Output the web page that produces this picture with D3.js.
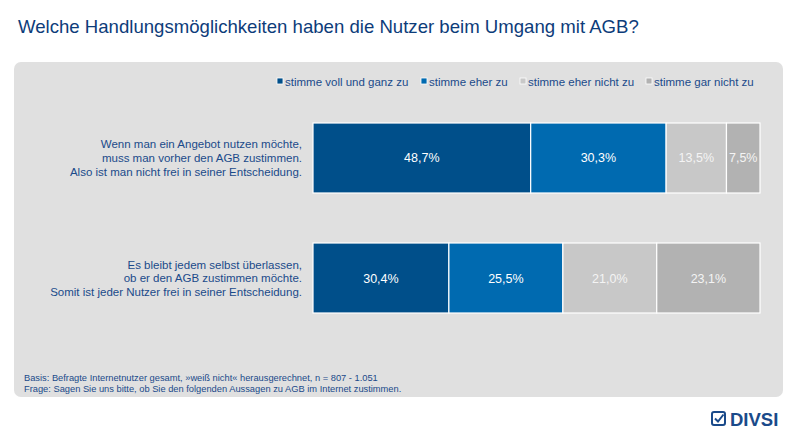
<!DOCTYPE html>
<html>
<head>
<meta charset="utf-8">
<script src="https://d3js.org/d3.v7.min.js"></script>
<style>
  body { margin: 0; background: #fff; }
  svg { display: block; font-family: "Liberation Sans", Arial, sans-serif; }
</style>
</head>
<body>
<div id="chart"></div>
<script>
// data
const categories = ["stimme voll und ganz zu", "stimme eher zu", "stimme eher nicht zu", "stimme gar nicht zu"];
const statements = [
    ["Wenn man ein Angebot nutzen möchte,", "muss man vorher den AGB zustimmen.", "Also ist man nicht frei in seiner Entscheidung."],
    ["Es bleibt jedem selbst überlassen,", "ob er den AGB zustimmen möchte.", "Somit ist jeder Nutzer frei in seiner Entscheidung."]
];
const values = [
    [48.7, 30.3, 13.5, 7.5],
    [30.4, 25.5, 21.0, 23.1]
];
const colors = ["#004f8a", "#006ab0", "#c8c8c8", "#b2b2b2"];

const width = 800, height = 440;
const svg = d3.select("#chart").append("svg")
    .attr("width", width)
    .attr("height", height);

// title
svg.append("text")
    .attr("x", 18).attr("y", 33)
    .attr("fill", "#0d3c7a")
    .style("font-size", "18.6px")
    .text("Welche Handlungsmöglichkeiten haben die Nutzer beim Umgang mit AGB?");

// grey panel
svg.append("rect")
    .attr("x", 14).attr("y", 62)
    .attr("width", 769).attr("height", 335)
    .attr("rx", 7)
    .attr("fill", "#e0e0e0");

// scales
const x = d3.scaleLinear().domain([0, 100]).range([313, 760]);
const y = d3.scaleBand().domain(d3.range(statements.length)).range([123, 313]).paddingInner(0.4167);

// legend
const legendX = [277, 421, 520, 646];
const legend = svg.append("g").attr("class", "legend");
categories.forEach((c, i) => {
    legend.append("rect")
        .attr("x", legendX[i]).attr("y", 78)
        .attr("width", 6).attr("height", 6)
        .attr("fill", colors[i])
        .attr("stroke", "#fff").attr("stroke-width", 0.8);
    legend.append("text")
        .attr("x", legendX[i] + 8).attr("y", 85.5)
        .attr("fill", "#1a4a8a")
        .style("font-size", "11.5px")
        .text(c);
});

// bars
values.forEach((row, r) => {
    const stack = d3.cumsum([0].concat(row));
    const g = svg.append("g").attr("class", "row-" + r);

    g.selectAll("rect")
        .data(row)
        .join("rect")
        .attr("x", (d, i) => x(stack[i]))
        .attr("y", y(r))
        .attr("width", (d, i) => x(stack[i + 1]) - x(stack[i]))
        .attr("height", y.bandwidth())
        .attr("fill", (d, i) => colors[i])
        .attr("stroke", "#fff")
        .attr("stroke-width", 1.2);

    g.selectAll("text.val")
        .data(row)
        .join("text")
        .attr("class", "val")
        .attr("x", (d, i) => (x(stack[i]) + x(stack[i + 1])) / 2)
        .attr("y", y(r) + y.bandwidth() / 2 + 4.5)
        .attr("text-anchor", "middle")
        .attr("fill", (d, i) => i < 2 ? "#ffffff" : "#f4f4f4")
        .style("font-size", "12.5px")
        .text(d => d3.format(".1f")(d).replace(".", ",") + "%");

    // statement label
    const lbl = svg.append("text")
        .attr("text-anchor", "end")
        .attr("fill", "#1a4a8a")
        .style("font-size", "11.5px");
    statements[r].forEach((line, k) => {
        lbl.append("tspan")
            .attr("x", 302)
            .attr("y", y(r) + y.bandwidth() / 2 - 9.5 + k * 13.7)
            .text(line);
    });
});

// footnote
const foot = svg.append("text")
    .attr("fill", "#1a4a8a")
    .style("font-size", "9.3px");
foot.append("tspan").attr("x", 24).attr("y", 381)
    .text("Basis: Befragte Internetnutzer gesamt, »weiß nicht« herausgerechnet, n = 807 - 1.051");
foot.append("tspan").attr("x", 24).attr("y", 392)
    .text("Frage: Sagen Sie uns bitte, ob Sie den folgenden Aussagen zu AGB im Internet zustimmen.");

// logo
const logo = svg.append("g").attr("transform", "translate(712,412)");
logo.append("rect")
    .attr("x", 0).attr("y", 0).attr("width", 13).attr("height", 13)
    .attr("rx", 2)
    .attr("fill", "none").attr("stroke", "#1a4a8a").attr("stroke-width", 2);
logo.append("path")
    .attr("d", "M3,6.5 L6,9.5 L11.5,2.5")
    .attr("fill", "none").attr("stroke", "#1a4a8a").attr("stroke-width", 2);
logo.append("text")
    .attr("x", 18).attr("y", 13.5)
    .attr("fill", "#1a4a8a")
    .style("font-size", "18.5px")
    .style("font-weight", "bold")
    .text("DIVSI");
</script>
</body>
</html>
